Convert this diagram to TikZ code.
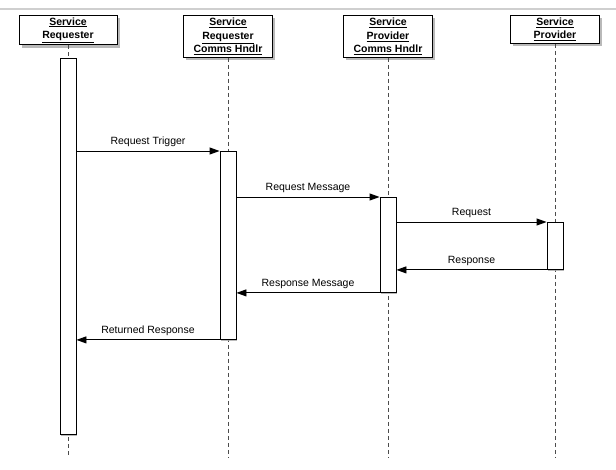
\documentclass[tikz,border=0pt]{standalone}
\usepackage{fontspec}
\setmainfont{Liberation Sans}
\usepackage{tikz}
\usetikzlibrary{arrows.meta, positioning, shadows}
\definecolor{shadowgray}{HTML}{A8A8A8}
\definecolor{rulegray}{HTML}{CFCFCF}

\begin{document}
\begin{tikzpicture}[
  x=1pt, y=-1pt,
  font=\fontsize{10.5}{13.5}\selectfont,
  head/.style={rectangle, draw=black, fill=white, line width=0.9pt, align=center,
               font=\fontsize{10.5}{13.5}\selectfont\bfseries, inner sep=2pt,
               anchor=north, minimum width=89pt,
               drop shadow={shadow xshift=2.5pt, shadow yshift=-3pt, fill=shadowgray, opacity=0.8}},
  act/.style={rectangle, draw=black, fill=white, line width=0.9pt, anchor=north,
              minimum width=16pt, inner sep=0pt,
              drop shadow={shadow xshift=0.8pt, shadow yshift=-2pt, fill=shadowgray, opacity=0.8}},
  life/.style={black!70, line width=0.8pt, dash pattern=on 4pt off 3pt},
  arr/.style={-{Triangle[length=10pt, width=7pt]}, line width=0.9pt, black},
  msg/.style={midway, above=2.5pt, inner sep=1pt}
]
  \useasboundingbox (0,0) rectangle (616,469);
  \draw[rulegray, line width=1.2pt] (0,9) -- (616,9);

  \node[head, minimum width=98pt, minimum height=28pt] (h1) at (68,15)
    {\underline{Service}\\\underline{Requester}};
  \node[head, minimum height=42pt] (h2) at (228,15)
    {\underline{Service}\\\underline{Requester}\\\underline{Comms Hndlr}};
  \node[head, minimum height=42pt] (h3) at (388,15)
    {\underline{Service}\\\underline{Provider}\\\underline{Comms Hndlr}};
  \node[head, minimum height=28pt] (h4) at (555,15)
    {\underline{Service}\\\underline{Provider}};

  \coordinate (e1) at (68,458);
  \coordinate (e2) at (228,458);
  \coordinate (e3) at (388,458);
  \coordinate (e4) at (555,458);
  \draw[life] (h1.south) -- (e1);
  \draw[life] (h2.south) -- (e2);
  \draw[life] (h3.south) -- (e3);
  \draw[life] (h4.south) -- (e4);

  \node[act, minimum height=376pt] (a1) at (68,58) {};
  \node[act, minimum height=188pt] (a2) at (228,151) {};
  \node[act, minimum height=95pt]  (a3) at (388,197) {};
  \node[act, minimum height=47pt]  (a4) at (555,222) {};

  \draw[arr] (a1.east |- a2.north) -- node[msg] {Request Trigger} (a2.north west);
  \draw[arr] (a2.east |- a3.north) -- node[msg] {Request Message} (a3.north west);
  \draw[arr] (a3.east |- a4.north) -- node[msg] {Request} (a4.north west);
  \draw[arr] (a4.south west) -- node[msg] {Response} (a3.east |- a4.south);
  \draw[arr] (a3.south west) -- node[msg] {Response Message} (a2.east |- a3.south);
  \draw[arr] (a2.south west) -- node[msg] {Returned Response} (a1.east |- a2.south);
\end{tikzpicture}
\end{document}
